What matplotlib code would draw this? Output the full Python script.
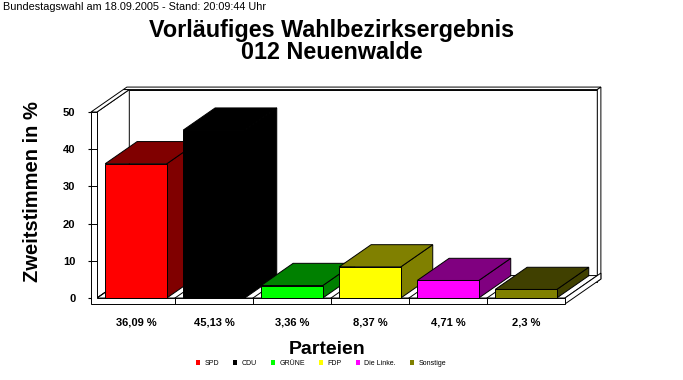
import matplotlib
matplotlib.use("Agg")
import matplotlib.pyplot as plt
from matplotlib.patches import Polygon, Patch

plt.rcParams["font.family"] = ["Liberation Sans", "DejaVu Sans"]

# data
parties = ["SPD", "CDU", "GRÜNE", "FDP", "Die Linke.", "Sonstige"]
shares = [36.09, 45.13, 3.36, 8.37, 4.71, 2.3]
share_labels = ["36,09 %", "45,13 %", "3,36 %", "8,37 %", "4,71 %", "2,3 %"]
front_colors = ["#ff0000", "#000000", "#00ff00", "#ffff00", "#ff00ff", "#808000"]
shade_colors = ["#800000", "#000000", "#008000", "#808000", "#800080", "#404000"]
y_ticks = [0, 10, 20, 30, 40, 50]

# 3d look (depth vector in data units)
DEPTH_X = 0.46
DEPTH_Y = 6.7
BAR_DEPTH = 0.89
WALL_Z = 0.9
BAR_W = 0.79
WALL_T = 0.077
FLOOR_T = 1.6
X0, X1 = -0.5, len(parties) - 0.5
Y1 = y_ticks[-1]


def shift(pts, z):
    return [(x + z * DEPTH_X, y + z * DEPTH_Y) for x, y in pts]


def face(ax, pts, fc="white", ec="black"):
    ax.add_patch(Polygon(pts, closed=True, fc=fc, ec=ec, lw=0.7, zorder=1,
                         clip_on=False, joinstyle="miter"))


fig = plt.figure(figsize=(6.83, 3.8), dpi=100)
ax = fig.add_axes([91 / 683, 82 / 380, 474 / 683, 186 / 380])
ax.set_xlim(X0 - WALL_T, X1)
ax.set_ylim(0, Y1)
for s in ax.spines.values():
    s.set_visible(False)

xl = X0 - WALL_T
# back wall
face(ax, shift([(xl, -FLOOR_T), (X1, -FLOOR_T), (X1, Y1), (xl, Y1)], WALL_Z))
face(ax, shift([(xl, Y1), (X1, Y1)], WALL_Z) + shift([(X1, Y1), (xl, Y1)], 1))
face(ax, shift([(X1, -FLOOR_T), (X1, Y1)], WALL_Z) + shift([(X1, Y1), (X1, -FLOOR_T)], 1))
# left wall, inner face and top
face(ax, [(X0, 0), (X0, Y1)] + shift([(X0, Y1), (X0, 0)], WALL_Z))
face(ax, [(xl, Y1), (X0, Y1)] + shift([(X0, Y1), (xl, Y1)], WALL_Z))
# floor
face(ax, [(X0, 0), (X1, 0)] + shift([(X1, 0), (X0, 0)], WALL_Z))
face(ax, [(X1, 0), (X1, -FLOOR_T)] + shift([(X1, -FLOOR_T), (X1, 0)], 1))
for k in range(len(parties)):
    b = X0 + k
    ax.plot([b, b + WALL_Z * DEPTH_X], [0, WALL_Z * DEPTH_Y], color="black",
            lw=0.7, clip_on=False, zorder=1)
# front of left wall + floor
face(ax, [(xl, -FLOOR_T), (X1, -FLOOR_T), (X1, 0), (X0, 0), (X0, Y1), (xl, Y1)])
ax.vlines([X0 + k for k in range(1, len(parties))], -FLOOR_T, 0,
          color="black", lw=0.7, clip_on=False, zorder=1)
ax.hlines(y_ticks[1:-1], xl, X0, color="black", lw=0.7, clip_on=False, zorder=1)

# bars
for i, v in enumerate(shares):
    l, r = i - BAR_W / 2, i + BAR_W / 2
    face(ax, [(r, 0), (r, v)] + shift([(r, v), (r, 0)], BAR_DEPTH), shade_colors[i])
    face(ax, [(l, v), (r, v)] + shift([(r, v), (l, v)], BAR_DEPTH), shade_colors[i])
    face(ax, [(l, 0), (r, 0), (r, v), (l, v)], front_colors[i])
    ax.text(i, -7.26, share_labels[i], ha="center", va="baseline",
            fontsize=8, fontweight="bold")

ax.set_xticks([])
ax.set_yticks(y_ticks)
ax.tick_params(axis="y", length=2, width=0.8, pad=9.2, labelsize=8)
for t in ax.get_yticklabels():
    t.set_fontweight("bold")

fig.text(3 / 683, 1 - 10.5 / 380, "Bundestagswahl am 18.09.2005 - Stand: 20:09:44 Uhr",
         fontsize=7.8, ha="left", va="baseline")
fig.text(331.5 / 683, 1 - 37.3 / 380, "Vorläufiges Wahlbezirksergebnis",
         fontsize=16.8, fontweight="bold", ha="center", va="baseline")
fig.text(331.5 / 683, 1 - 59.3 / 380, "012 Neuenwalde",
         fontsize=16.8, fontweight="bold", ha="center", va="baseline")
fig.text(33 / 683, 1 - 192 / 380, "Zweitstimmen in %", rotation=90,
         fontsize=14.5, fontweight="bold", ha="center", va="center")
fig.text(327 / 683, 1 - 354 / 380, "Parteien",
         fontsize=14, fontweight="bold", ha="center", va="baseline")

handles = [Patch(fc=c, ec="none") for c in front_colors]
fig.legend(handles, parties, ncol=6, loc="center",
           bbox_to_anchor=(321 / 683, 1 - 363.5 / 380), frameon=False,
           fontsize=5, handlelength=0.6, handleheight=0.6, handletextpad=0.63,
           columnspacing=2.0, borderpad=0, borderaxespad=0)

fig.savefig("out.png", dpi=100, facecolor="white")
